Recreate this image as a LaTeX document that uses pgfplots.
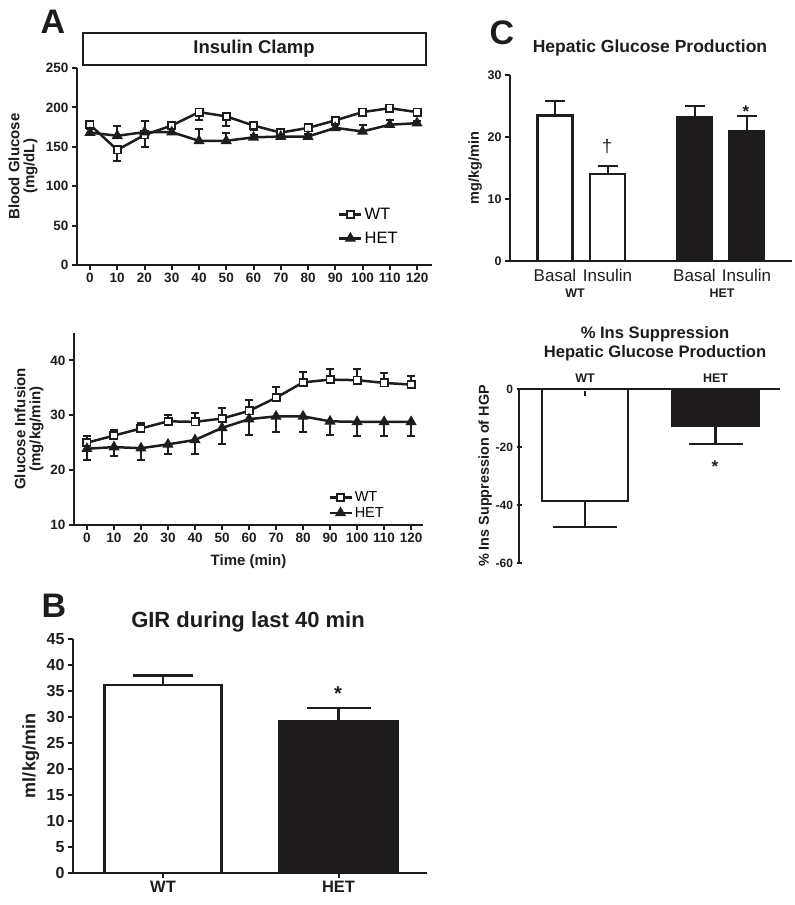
\documentclass[border=0pt]{standalone}
\usepackage{pgfplots}
\pgfplotsset{compat=1.18}
\usepackage{fontspec}
\setmainfont{Liberation Sans}
\newcommand{\fsz}[1]{\fontsize{#1}{#1}\selectfont}
\definecolor{gpk}{RGB}{30,28,29}
\pgfplotsset{
  gp/.style={
    scale only axis,
    anchor=south west,
    axis lines=left,
    axis line style={-, line width=2.2pt, gpk},
    tick style={line width=2pt, gpk},
    major tick length=5pt,
    tick align=outside,
    /pgf/number format/assume math mode=true,
    clip=false,
    ticklabel style={font=\bfseries\fsz{13.5}, text=gpk},
    label style={font=\bfseries\fsz{15}, text=gpk},
    legend cell align=left,
    legend image code/.code={\draw[mark repeat=2,mark phase=2,##1] plot coordinates {(0pt,0pt) (11pt,0pt) (22pt,0pt)};},
  },
  wtline/.style={line width=2.5pt, gpk, mark=square*, mark size=3.6pt, mark options={fill=white, line width=1.8pt, solid}},
  hetline/.style={line width=2.5pt, gpk, mark=triangle*, mark size=4pt, mark options={fill=gpk, solid}},
  eb/.style 2 args={error bars/.cd, y dir=#2, y explicit, error bar style={line width=2pt, gpk}, error mark options={rotate=90, line width=2pt, mark size=#1, gpk}},
  ebb/.style 2 args={error bars/.cd, y dir=#2, y explicit, error bar style={line width=2.5pt, gpk}, error mark options={rotate=90, line width=2.5pt, mark size=#1, gpk}},
}
\begin{document}
\begin{tikzpicture}
\path[use as bounding box] (0,0) rectangle (795pt,905pt);

% ---------- Panel A top ----------
\begin{axis}[gp, at={(77pt,640pt)}, width=355pt, height=197pt,
  xmin=-4.77, xmax=125.5, ymin=0, ymax=250,
  xtick={0,10,...,120}, ytick={0,50,...,250},
  ylabel={Blood Glucose\\(mg/dL)},
  ylabel style={align=center, at={(axis description cs:-0.152,0.5)}, anchor=center},
  legend style={at={(axis description cs:0.735,0.30)}, anchor=north west, draw=none, fill=none, font=\fsz{16.5}, row sep=7pt, inner sep=0pt},
]
\addplot[wtline, eb={4pt}{minus}]
coordinates {(0,178) +- (0,4) (10,146) +- (0,14) (20,165) +- (0,15) (30,177) +- (0,3) (40,194) +- (0,10) (50,188.6) +- (0,12.6) (60,177) +- (0,6) (70,168) +- (0,3) (80,174) +- (0,4) (90,183.5) +- (0,4) (100,194) +- (0,3) (110,199) +- (0,3) (120,194) +- (0,5)};
\addlegendentry{WT}
\addplot[hetline, eb={4pt}{plus}]
coordinates {(0,168) +- (0,5) (10,164) +- (0,13) (20,168.6) +- (0,14) (30,168.6) +- (0,4) (40,157.6) +- (0,15) (50,157.6) +- (0,10) (60,162) +- (0,3) (70,163) +- (0,3) (80,163) +- (0,3) (90,174) +- (0,4) (100,169.5) +- (0,8) (110,178) +- (0,6) (120,180) +- (0,3)};
\addlegendentry{HET}
\end{axis}

% ---------- Panel A bottom ----------
\begin{axis}[gp, at={(74pt,380pt)}, width=349pt, height=192pt,
  xmin=-4.8, xmax=124.4, ymin=10, ymax=45,
  xtick={0,10,...,120}, ytick={10,20,30,40},
  xlabel={Time (min)},
  xlabel style={at={(axis description cs:0.5,-0.193)}, anchor=center},
  ylabel={Glucose Infusion\\(mg/kg/min)},
  ylabel style={align=center, at={(axis description cs:-0.129,0.5)}, anchor=center},
  legend style={at={(axis description cs:0.728,0.185)}, anchor=north west, draw=none, fill=none, font=\fsz{14.5}, row sep=0pt, inner sep=0pt},
]
\addplot[wtline, eb={4pt}{plus}]
coordinates {(0,25.0) +- (0,1.3) (10,26.3) +- (0,1.1) (20,27.6) +- (0,1.0) (30,28.9) +- (0,1.2) (40,28.8) +- (0,1.6) (50,29.4) +- (0,1.9) (60,30.8) +- (0,1.9) (70,33.2) +- (0,1.9) (80,36.0) +- (0,1.9) (90,36.5) +- (0,2.0) (100,36.4) +- (0,2.0) (110,35.9) +- (0,1.8) (120,35.6) +- (0,1.6)};
\addlegendentry{WT}
\addplot[hetline, eb={4pt}{minus}]
coordinates {(0,23.9) +- (0,2.0) (10,24.2) +- (0,1.7) (20,24.0) +- (0,2.1) (30,24.7) +- (0,1.8) (40,25.5) +- (0,2.5) (50,27.7) +- (0,2.9) (60,29.3) +- (0,2.9) (70,29.8) +- (0,2.8) (80,29.8) +- (0,2.8) (90,28.9) +- (0,2.5) (100,28.8) +- (0,2.5) (110,28.8) +- (0,2.5) (120,28.8) +- (0,2.5)};
\addlegendentry{HET}
\end{axis}

% ---------- Panel B ----------
\begin{axis}[gp, axis on top, at={(73pt,32pt)}, width=354pt, height=234pt,
  xmin=-0.513, xmax=1.504, ymin=0, ymax=45,
  ytick={0,5,...,45}, xtick={0,1}, xticklabels={WT,HET},
  yticklabel style={font=\bfseries\fsz{16}},
  xticklabel style={font=\bfseries\fsz{16.5}},
  ylabel={ml/kg/min},
  ylabel style={font=\bfseries\fsz{18}, at={(axis description cs:-0.119,0.5)}, anchor=center},
]
\addplot[ybar, bar width=117pt, bar shift=0pt, fill=white, draw=gpk, line width=2.5pt, ebb={30pt}{plus}]
coordinates {(0,36.2) +- (0,1.8)};
\addplot[ybar, bar width=119pt, bar shift=0pt, fill=gpk, draw=gpk, line width=2.5pt, ebb={32pt}{plus}]
coordinates {(1,29.1) +- (0,2.6)};
\end{axis}

% ---------- Panel C top ----------
\begin{axis}[gp, axis on top, at={(510pt,644pt)}, width=282pt, height=186pt,
  xmin=-0.857, xmax=4.514, ymin=0, ymax=30,
  ytick={0,10,20,30}, xtick={0,1,2.657,3.648}, xticklabels={Basal,Insulin,Basal,Insulin},
  yticklabel style={font=\bfseries\fsz{12.5}},
  xticklabel style={font=\fsz{17}},
  major x tick style={draw=none},
  ylabel={mg/kg/min},
  ylabel style={font=\bfseries\fsz{14.5}, at={(axis description cs:-0.124,0.5)}, anchor=center},
]
\addplot[ybar, bar width=35pt, bar shift=0pt, fill=white, draw=gpk, line width=2.5pt, eb={10pt}{plus}]
coordinates {(0,23.5) +- (0,2.3) (1,14.0) +- (0,1.35)};
\addplot[ybar, bar width=35pt, bar shift=0pt, fill=gpk, draw=gpk, line width=2.5pt, eb={10pt}{plus}]
coordinates {(2.657,23.25) +- (0,1.75) (3.648,20.95) +- (0,2.45)};
\end{axis}

% ---------- Panel C bottom ----------
\begin{axis}[gp, axis on top, at={(519pt,342pt)}, width=261pt, height=174pt,
  axis x line=top, axis y line=left,
  axis line style={-}, x axis line style={-}, y axis line style={-},
  xmin=-0.506, xmax=1.494, ymin=-60, ymax=0,
  ytick={-60,-40,-20,0}, xtick={0,1}, xticklabels={WT,HET},
  yticklabel style={font=\bfseries\fsz{12}},
  xticklabel style={font=\bfseries\fsz{12.5}},
  major x tick style={yshift=-5pt},
  ylabel={\% Ins Suppression of HGP},
  ylabel style={font=\bfseries\fsz{14.4}, at={(axis description cs:-0.130,0.5)}, anchor=center},
]
\addplot[ybar, bar width=86pt, bar shift=0pt, fill=white, draw=gpk, line width=2.5pt, ebb={32pt}{minus}]
coordinates {(0,-38.7) +- (0,8.9)};
\addplot[ybar, bar width=87pt, bar shift=0pt, fill=gpk, draw=gpk, line width=2.5pt, ebb={27pt}{minus}]
coordinates {(1,-12.6) +- (0,6.4)};
\end{axis}

% ---------- annotations ----------
\node[font=\bfseries\fsz{34}, text=gpk] at (53pt,883pt) {A};
\node[font=\bfseries\fsz{34}, text=gpk] at (54pt,299pt) {B};
\node[font=\bfseries\fsz{34}, text=gpk] at (502pt,872pt) {C};
\draw[line width=2.8pt, gpk] (83pt,872pt) rectangle (426pt,840pt);
\node[font=\bfseries\fsz{18.5}, text=gpk] at (254pt,856pt) {Insulin Clamp};
\node[font=\bfseries\fsz{22}, text=gpk] at (248pt,283pt) {GIR during last 40 min};
\node[font=\bfseries\fsz{17.5}, text=gpk] at (650pt,857pt) {Hepatic Glucose Production};
\node[font=\bfseries\fsz{16.6}, text=gpk, align=center] at (655pt,561pt) {\% Ins Suppression\\[2pt]Hepatic Glucose Production};
\node[font=\bfseries\fsz{12.5}, text=gpk] at (575pt,612pt) {WT};
\node[font=\bfseries\fsz{12.5}, text=gpk] at (722pt,612pt) {HET};
\node[font=\bfseries\fsz{20}, text=gpk] at (338pt,211pt) {*};
\node[font=\bfseries\fsz{17}, text=gpk] at (746pt,793pt) {*};
\node[font=\bfseries\fsz{17}, text=gpk] at (715pt,438pt) {*};
\node[font=\fsz{18}, text=gpk] at (607pt,758pt) {†};
\end{tikzpicture}
\end{document}
